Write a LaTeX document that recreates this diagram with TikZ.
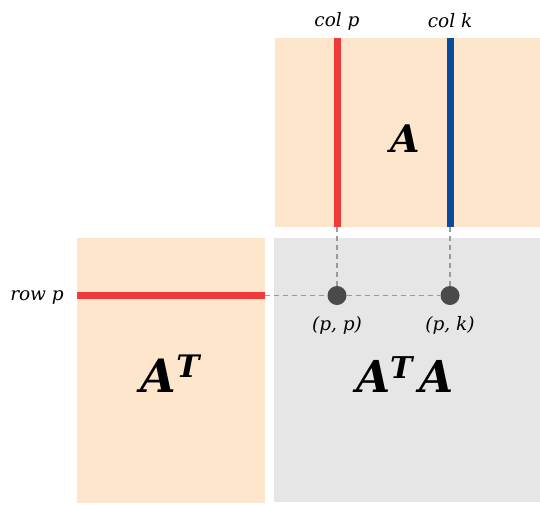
\documentclass[tikz,border=0pt]{standalone}
\usepackage{fontspec}
\setmainfont{DejaVu Serif}
\begin{document}
\begin{tikzpicture}[x=1pt,y=-1pt,
  box/.style={draw=none,inner sep=0pt,outer sep=0pt,rectangle},
  peach/.style={box,fill=peachc},
  grey/.style={box,fill=greyc},
  vec/.style={line width=7pt},
  guide/.style={draw=guidec,line width=1.8pt,dash pattern=on 5pt off 4pt},
  dot/.style={circle,fill=dotc,inner sep=0pt,minimum size=19pt},
  lbl/.style={inner sep=0pt,font=\fontsize{18.5}{22}\selectfont\itshape},
  big/.style={inner sep=0pt,anchor=base}]
\definecolor{peachc}{HTML}{FDE6CC}
\definecolor{greyc}{HTML}{E6E6E6}
\definecolor{redc}{HTML}{F03A3A}
\definecolor{bluec}{HTML}{0C4B9C}
\definecolor{dotc}{HTML}{4A4A4A}
\definecolor{guidec}{HTML}{9A9A9A}
\useasboundingbox (0,0) rectangle (540,504);
% boxes
\node[peach,minimum width=265pt,minimum height=189pt] (Abox) at (407.5,132.5) {};
\node[peach,minimum width=188pt,minimum height=265pt] (ATbox) at (171,370.5) {};
\node[grey,minimum width=266pt,minimum height=264pt] (ATAbox) at (407,370) {};
% vectors
\coordinate (cpT) at (337,38); \coordinate (cpB) at (337,227);
\coordinate (ckT) at (450,38); \coordinate (ckB) at (450,227);
\coordinate (rpL) at (77,295.5); \coordinate (rpR) at (265,295.5);
\draw[vec,draw=redc] (cpT) -- (cpB);
\draw[vec,draw=bluec] (ckT) -- (ckB);
\draw[vec,draw=redc] (rpL) -- (rpR);
% dots
\node[dot] (pp) at (337,295.5) {};
\node[dot] (pk) at (450,295.5) {};
\draw[guide] (cpB) -- (pp);
\draw[guide] (ckB) -- (pk);
\draw[guide] (rpR) -- (pp) -- (pk);
% labels
\node[lbl] (lcp) at (337,21) {col p};
\node[lbl] (lck) at (450,21) {col k};
\node[lbl,anchor=east] (lrp) at (64,297) {row p};
\node[lbl] (lpp) at (337,325) {(p, p)};
\node[lbl] (lpk) at (450,325) {(p, k)};
% big letters
\node[big,font=\fontsize{38}{44}\selectfont\bfseries\itshape] (tA) at (405,152) {A};
\node[big,font=\fontsize{46}{52}\selectfont\bfseries\itshape] (tAT) at (170,392) {A\raisebox{15pt}{\fontsize{31}{34}\selectfont T}};
\node[big,font=\fontsize{44}{50}\selectfont\bfseries\itshape] (tATA) at (405,392) {A\raisebox{14pt}{\fontsize{30}{34}\selectfont T}\,A};
\end{tikzpicture}
\end{document}
